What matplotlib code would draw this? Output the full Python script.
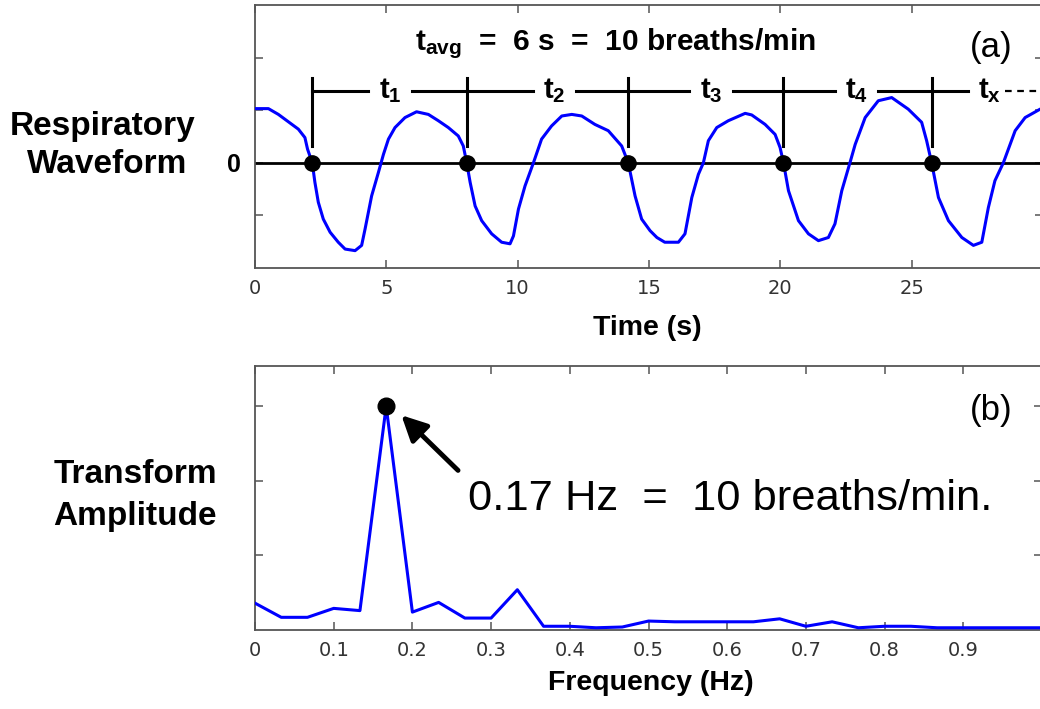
import matplotlib
matplotlib.use("Agg")
import matplotlib.pyplot as plt

plt.rcParams['mathtext.fontset'] = 'custom'
plt.rcParams['mathtext.rm'] = 'Liberation Sans'
plt.rcParams['mathtext.bf'] = 'Liberation Sans:bold'
plt.rcParams['mathtext.it'] = 'Liberation Sans:italic'

# ---------------- data ----------------
time_s = [0, 0.51, 0.89, 1.27, 1.65, 1.9, 2.0, 2.18, 2.28, 2.41, 2.6, 2.86, 3.17, 3.43,
          3.81, 4.06, 4.19, 4.44, 4.7, 4.89, 5.08, 5.33, 5.71, 6.15, 6.6, 6.98, 7.36,
          7.74, 7.93, 8.06, 8.19, 8.38, 8.63, 9.01, 9.39, 9.71, 9.84, 10.03, 10.28,
          10.6, 10.91, 11.29, 11.68, 12.06, 12.44, 12.94, 13.45, 13.96, 14.21, 14.47,
          14.72, 15.04, 15.3, 15.6, 16.12, 16.37, 16.63, 16.88, 17.07, 17.26, 17.58,
          18.02, 18.66, 18.91, 19.42, 19.8, 19.99, 20.12, 20.31, 20.69, 21.07, 21.45,
          21.83, 22.08, 22.34, 22.65, 22.85, 23.23, 23.73, 24.24, 24.87, 25.38, 25.57,
          25.76, 26.02, 26.4, 26.91, 27.35, 27.67, 27.92, 28.17, 28.49, 28.94, 29.32,
          29.89, 30.0]
waveform = [1.03, 1.03, 0.92, 0.78, 0.64, 0.48, 0.26, 0, -0.37, -0.75, -1.07, -1.32,
            -1.51, -1.64, -1.67, -1.57, -1.26, -0.63, -0.18, 0.16, 0.45, 0.67, 0.86,
            0.97, 0.92, 0.8, 0.67, 0.51, 0.32, 0, -0.37, -0.82, -1.1, -1.35, -1.51,
            -1.54, -1.39, -0.88, -0.44, 0, 0.45, 0.7, 0.89, 0.92, 0.89, 0.73, 0.61,
            0.32, 0, -0.63, -1.07, -1.29, -1.42, -1.51, -1.51, -1.35, -0.66, -0.22, 0,
            0.42, 0.67, 0.8, 0.94, 0.91, 0.73, 0.54, 0.29, 0, -0.53, -1.1, -1.35,
            -1.48, -1.42, -1.16, -0.53, 0, 0.35, 0.86, 1.18, 1.24, 1.02, 0.77, 0.42, 0,
            -0.66, -1.1, -1.42, -1.57, -1.51, -0.85, -0.34, 0, 0.61, 0.86, 1.02, 1.03]

crossing_times = [2.18, 8.06, 14.21, 20.12, 25.76]
interval_labels = [r'$\mathbf{t_1}$', r'$\mathbf{t_2}$', r'$\mathbf{t_3}$',
                   r'$\mathbf{t_4}$', r'$\mathbf{t_x}$']
label_centers = [5.14, 11.4, 17.36, 22.9, 27.95]

freq_hz = [0, 1/30, 2/30, 3/30, 4/30, 5/30, 6/30, 7/30, 8/30, 9/30, 10/30, 11/30,
           12/30, 13/30, 14/30, 15/30, 16/30, 17/30, 18/30, 19/30, 20/30, 21/30,
           22/30, 23/30, 24/30, 25/30, 26/30, 27/30, 28/30, 29/30, 1.0]
amplitude = [0.36, 0.17, 0.17, 0.29, 0.26, 3.0, 0.24, 0.37, 0.16, 0.16, 0.54, 0.05,
             0.05, 0.03, 0.04, 0.12, 0.11, 0.11, 0.11, 0.11, 0.15, 0.05, 0.11, 0.03,
             0.05, 0.05, 0.03, 0.03, 0.03, 0.03, 0.03]
peak_freq = 1/6
peak_amp = 3.0

time_ticks = [0, 5, 10, 15, 20, 25, 30]
time_ticklabels = ['0', '5', '10', '15', '20', '25', '']
freq_ticks = [0, 0.1, 0.2, 0.3, 0.4, 0.5, 0.6, 0.7, 0.8, 0.9, 1.0]
freq_ticklabels = ['0', '0.1', '0.2', '0.3', '0.4', '0.5', '0.6', '0.7', '0.8', '0.9', '']

# ---------------- figure ----------------
W, H = 1040, 709
fig = plt.figure(figsize=(W / 100, H / 100), dpi=100)


def box(l, t, r, b):
    return [l / W, 1 - b / H, (r - l) / W, (b - t) / H]


def fp(x, y):
    return (x / W, 1 - y / H)


SPINE = '#555555'
TICKC = '#333333'


def style_axes(ax):
    for s in ax.spines.values():
        s.set_color(SPINE)
        s.set_linewidth(1.3)
    ax.tick_params(direction='in', length=6, width=1.1, color=SPINE,
                   top=True, right=True, labelsize=14, labelcolor=TICKC, pad=8)
    for lab in ax.get_xticklabels():
        lab.set_family('DejaVu Sans')


# ---- top panel ----
ax1 = fig.add_axes(box(255, 5, 1043, 268))
ax1.plot(time_s, waveform, color='#0000ff', lw=2.2, zorder=3)
ax1.axhline(0, color='black', lw=2.0, zorder=2)
ax1.set_xlim(0, 30)
ax1.set_ylim(-2, 3)
ax1.set_xticks(time_ticks)
ax1.set_xticklabels(time_ticklabels)
ax1.set_yticks([-1, 0, 1, 2])
ax1.set_yticklabels([])
style_axes(ax1)

ax1.plot(crossing_times, [0] * len(crossing_times), 'o', color='black', ms=11, zorder=5)
y_bar, y_top, y_bot = 1.37, 1.61, 0.32
half_gap = 0.82
for tc in crossing_times:
    ax1.plot([tc, tc], [y_bot, y_top], color='black', lw=2.2, zorder=4)
for i, (tc, lc) in enumerate(zip(crossing_times, label_centers)):
    x0 = tc if i == 0 else label_centers[i - 1] + half_gap
    ax1.plot([x0, lc - half_gap], [y_bar, y_bar], color='black', lw=2.2, zorder=4)
    ax1.text(lc, y_bar, interval_labels[i], ha='center', va='center', fontsize=21,
             zorder=6)
ax1.plot([label_centers[-1] + 0.6, 30], [y_bar, y_bar], color='black', lw=1.6,
         ls=(0, (3, 2.5)), zorder=4)

# ---- bottom panel ----
ax2 = fig.add_axes(box(255, 366, 1042, 630))
ax2.plot(freq_hz, amplitude, color='#0000ff', lw=2.2, zorder=3)
ax2.plot([peak_freq], [peak_amp], 'o', color='black', ms=12, zorder=5)
ax2.set_xlim(0, 1)
ax2.set_ylim(0, 3.54)
ax2.set_xticks(freq_ticks)
ax2.set_xticklabels(freq_ticklabels)
ax2.set_yticks([1, 2, 3])
ax2.set_yticklabels([])
style_axes(ax2)

ax2.annotate('', xy=(0.186, 2.88), xytext=(0.258, 2.14),
             arrowprops=dict(arrowstyle='-|>', mutation_scale=38, lw=3.5,
                             color='black', shrinkA=0, shrinkB=0), zorder=6)

# ---------------- texts ----------------
SANS = 'Liberation Sans'
fig.text(*fp(615, 50), r'$\mathbf{t_{avg}}$  =  6 s  =  10 breaths/min', ha='center',
         va='baseline', fontsize=21.5, fontweight='bold', family=SANS)
fig.text(*fp(991, 57), '(a)', ha='center', va='baseline', fontsize=25, family=SANS)
fig.text(*fp(991, 420), '(b)', ha='center', va='baseline', fontsize=25, family=SANS)
fig.text(*fp(468, 510), '0.17 Hz  =  10 breaths/min.', ha='left', va='baseline',
         fontsize=31.3, family=SANS)

fig.text(*fp(103, 135), 'Respiratory', ha='center', va='baseline', fontsize=24,
         fontweight='bold', family=SANS)
fig.text(*fp(107, 173), 'Waveform', ha='center', va='baseline', fontsize=24,
         fontweight='bold', family=SANS)
fig.text(*fp(234, 172), '0', ha='center', va='baseline', fontsize=18,
         fontweight='bold', family=SANS)
fig.text(*fp(135, 483), 'Transform', ha='center', va='baseline', fontsize=24,
         fontweight='bold', family=SANS)
fig.text(*fp(135, 525), 'Amplitude', ha='center', va='baseline', fontsize=24,
         fontweight='bold', family=SANS)

fig.text(*fp(647, 335), 'Time (s)', ha='center', va='baseline', fontsize=20.5,
         fontweight='bold', family=SANS)
fig.text(*fp(651, 690), 'Frequency (Hz)', ha='center', va='baseline', fontsize=20.5,
         fontweight='bold', family=SANS)

fig.savefig('out.png', dpi=100, facecolor='white')
